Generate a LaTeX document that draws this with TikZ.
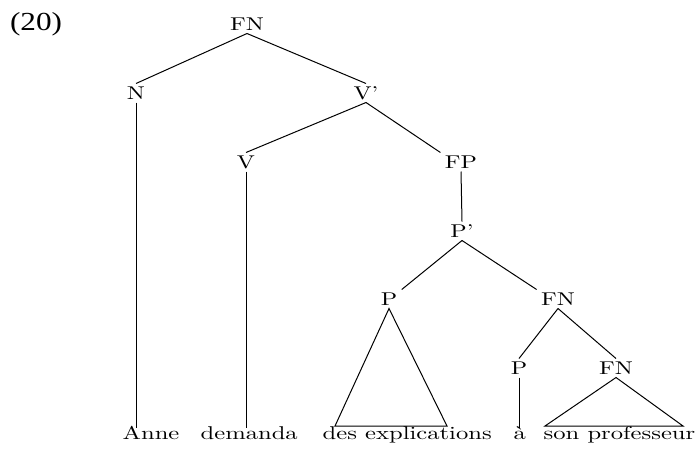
\documentclass[tikz,border=0pt]{standalone}
\usepackage{fontspec}
\newfontfamily\exfont{Liberation Serif}
\newfontfamily\treefont[Ligatures=TeX]{lmroman10-regular.otf}
\begin{document}
\begin{tikzpicture}[x=1pt, y=-1pt, line width=1pt,
    cat/.style={font=\treefont\fontsize{18.5}{21}\selectfont, xscale=1.3, inner sep=3pt,
        text height=12pt, text depth=0pt, anchor=base},
    word/.style={font=\treefont\fontsize{18.5}{21}\selectfont, xscale=1.33, inner sep=0pt,
        text height=11pt, text depth=3pt, anchor=base west}]
    \useasboundingbox (0,0) rectangle (700,448);
    \node[font=\exfont\fontsize{26}{30}\selectfont, xscale=1.2] (ex) at (36,24) {(20)};
    % categories
    \node[cat] (fn0) at (247,30) {FN};
    \node[cat] (n) at (136,99) {N};
    \node[cat] (vbar) at (366,99) {V'};
    \node[cat] (v) at (246,168) {V};
    \node[cat] (fp) at (461,168) {FP};
    \node[cat] (pbar) at (462,237) {P'};
    \node[cat] (p1) at (389,305) {P};
    \node[cat] (fn1) at (558,305) {FN};
    \node[cat] (p2) at (519,374) {P};
    \node[cat] (fn2) at (616,374) {FN};
    % words
    \node[word] (anne) at (122,439) {Anne};
    \node[word] (dem) at (200,439) {demanda};
    \node[word] (expl) at (322,439) {des explications};
    \node[word] (a) at (513,439) {à};
    \node[word] (prof) at (543,439) {son professeur};
    % triangles
    \coordinate (t1l) at (335,426);
    \coordinate (t1r) at (447,426);
    \coordinate (t2l) at (545,426);
    \coordinate (t2r) at (683,426);
    \draw (fn0.south) -- (n.north);
    \draw (fn0.south) -- (vbar.north);
    \draw (vbar.south) -- (v.north);
    \draw (vbar.south) -- (fp.north west);
    \draw (fp.south) -- (pbar.north);
    \draw (pbar.south) -- (p1.north east);
    \draw (pbar.south) -- (fn1.north west);
    \draw (fn1.south) -- (p2.north);
    \draw (fn1.south) -- (fn2.north);
    \draw (n.south) -- (n.south |- anne.north);
    \draw (v.south) -- (v.south |- dem.north);
    \draw (p2.south) -- (p2.south |- a.north);
    \draw (p1.south) -- (t1l) -- (t1r) -- cycle;
    \draw (fn2.south) -- (t2l) -- (t2r) -- cycle;
\end{tikzpicture}
\end{document}
